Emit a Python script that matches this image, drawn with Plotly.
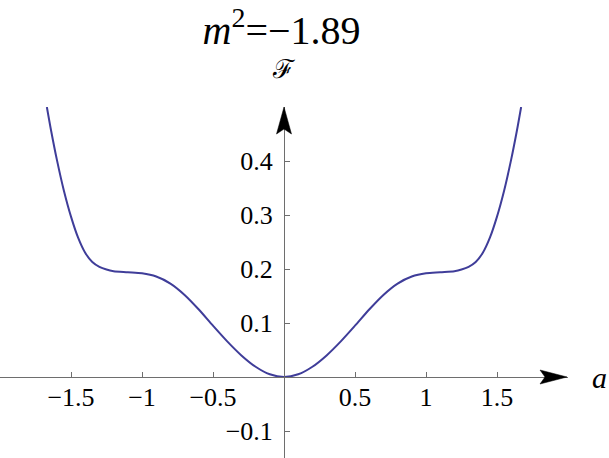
import plotly.graph_objects as go

# ---- data ----
a_vals = [-1.67, -1.64, -1.60, -1.55, -1.50, -1.45, -1.40, -1.35, -1.30, -1.25,
          -1.20, -1.10, -1.00, -0.90, -0.80, -0.70, -0.60, -0.50, -0.40, -0.30,
          -0.20, -0.10, 0.00, 0.10, 0.20, 0.30, 0.40, 0.50, 0.60, 0.70, 0.80,
          0.90, 1.00, 1.10, 1.20, 1.25, 1.30, 1.35, 1.40, 1.45, 1.50, 1.55,
          1.60, 1.64, 1.67]
F_vals = [0.500, 0.456, 0.403, 0.345, 0.297, 0.258, 0.230, 0.213, 0.204, 0.199,
          0.196, 0.194, 0.192, 0.186, 0.173, 0.152, 0.125, 0.095, 0.066, 0.040,
          0.019, 0.005, 0.000, 0.005, 0.019, 0.040, 0.066, 0.095, 0.125, 0.152,
          0.173, 0.186, 0.192, 0.194, 0.196, 0.199, 0.204, 0.213, 0.230, 0.258,
          0.297, 0.345, 0.403, 0.456, 0.500]

x_tickvals = [-1.5, -1, -0.5, 0.5, 1, 1.5]
x_ticktext = ["\u22121.5", "\u22121", "\u22120.5", "0.5", "1", "1.5"]
y_tickvals = [-0.1, 0.1, 0.2, 0.3, 0.4]
y_ticktext = ["\u22120.1", "0.1", "0.2", "0.3", "0.4"]

x_range = [-2.0, 2.0]
y_range = [-0.15, 0.5]

W, H = 609, 458
ML, MR, MT, MB = 0, 41, 107, 0
pw = W - ML - MR
ph = H - MT - MB
dx = (x_range[1] - x_range[0]) / pw   # data units per pixel
dy = (y_range[1] - y_range[0]) / ph

axis_col = "#6e6e6e"
serif = "Times New Roman"

fig = go.Figure()
fig.add_trace(go.Scatter(
    x=a_vals, y=F_vals, mode="lines",
    line=dict(color="#3F3D99", width=2, shape="spline", smoothing=0.8),
    hoverinfo="skip", showlegend=False))

# arrowheads (axis decorations)
xt = x_range[1] - 1 * dx
x_arrow = (f"M {xt},0 L {xt - 27*dx},{7*dy} L {xt - 22*dx},0 "
           f"L {xt - 27*dx},{-7*dy} Z")
yt = y_range[1]
y_arrow = (f"M 0,{yt} L {7.5*dx},{yt - 27*dy} L 0,{yt - 22*dy} "
           f"L {-7.5*dx},{yt - 27*dy} Z")
shapes = [
    dict(type="path", path=x_arrow, xref="x", yref="y",
         fillcolor="black", line=dict(color="black", width=0.5), layer="above"),
    dict(type="path", path=y_arrow, xref="x", yref="y",
         fillcolor="black", line=dict(color="black", width=0.5), layer="above"),
]

fig.update_layout(
    width=W, height=H,
    margin=dict(l=ML, r=MR, t=MT, b=MB, pad=0),
    paper_bgcolor="white", plot_bgcolor="white",
    showlegend=False,
    shapes=shapes,
    title=dict(text="<i>m</i><sup>2</sup>=\u22121.89",
               font=dict(family=serif, size=40, color="black"),
               x=281.5 / W, xanchor="center", xref="container",
               y=1 - 30 / H, yanchor="middle", yref="container"),
    xaxis=dict(range=x_range, anchor="free",
               position=(0 - y_range[0]) / (y_range[1] - y_range[0]),
               showline=True, linecolor=axis_col, linewidth=1,
               ticks="inside", ticklen=5, tickcolor=axis_col, tickwidth=1,
               tickvals=x_tickvals, ticktext=x_ticktext,
               tickfont=dict(family=serif, size=26, color="black"),
               ticklabelstandoff=-3,
               showgrid=False, zeroline=False, fixedrange=True),
    yaxis=dict(range=y_range, anchor="free",
               position=(0 - x_range[0]) / (x_range[1] - x_range[0]),
               showline=True, linecolor=axis_col, linewidth=1,
               ticks="inside", ticklen=5, tickcolor=axis_col, tickwidth=1,
               tickvals=y_tickvals, ticktext=y_ticktext,
               tickfont=dict(family=serif, size=26, color="black"),
               ticklabelstandoff=6,
               showgrid=False, zeroline=False, fixedrange=True),
    annotations=[
        dict(text="\u2131", xref="paper", yref="paper",
             x=0.5, y=1 + (MT - 69) / ph, xanchor="center", yanchor="middle",
             showarrow=False,
             font=dict(family="DejaVu Serif", size=26, color="black")),
        dict(text="<i>a</i>", xref="paper", yref="y",
             x=599 / pw, y=0, xanchor="center", yanchor="middle",
             showarrow=False,
             font=dict(family=serif, size=30, color="black")),
    ],
)

fig.write_html("out.html", config={"displayModeBar": False},
               post_script="document.body.style.margin='0';")
